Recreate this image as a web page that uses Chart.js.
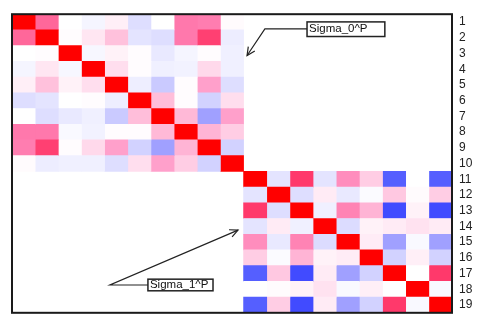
<!DOCTYPE html>
<html><head><meta charset="utf-8">
<script src="https://cdn.jsdelivr.net/npm/chart.js@4/dist/chart.umd.min.js"></script>
<style>html,body{margin:0;padding:0;background:#fff;}#wrap{width:477px;height:327px;}</style>
</head><body><div id="wrap"><canvas id="c"></canvas></div>
<script>
const rowLabels = ['1','2','3','4','5','6','7','8','9','10','11','12','13','14','15','16','17','18','19'];
// Sigma_0^P : rows/cols 1-10
const sigma0 = [
  [1, 0.75, 0, -0.08, 0.12, -0.3, 0, 0.7, 0.68, 0.03],
  [0.75, 1, 0.02, 0.18, 0.4, -0.25, -0.3, 0.7, 0.86, -0.15],
  [0, 0.02, 1, -0.06, 0.1, 0.02, -0.2, -0.08, 0.02, -0.12],
  [-0.08, 0.18, -0.06, 1, 0.22, 0.02, -0.12, -0.1, 0.25, -0.12],
  [0.12, 0.4, 0.1, 0.22, 1, -0.14, -0.45, 0.02, 0.55, -0.3],
  [-0.3, -0.25, 0, 0.02, -0.14, 1, 0.42, 0.02, -0.4, 0.22],
  [0, -0.3, -0.2, -0.12, -0.45, 0.42, 1, 0.45, -0.7, 0.55],
  [0.7, 0.7, -0.05, -0.1, 0.02, 0.02, 0.45, 1, 0.47, 0.32],
  [0.68, 0.86, 0.02, 0.25, 0.55, -0.4, -0.7, 0.47, 1, -0.4],
  [0.03, -0.15, -0.12, -0.12, -0.3, 0.22, 0.55, 0.32, -0.4, 1]
];
// Sigma_1^P : rows/cols 11-19
const sigma1 = [
  [1, -0.25, 0.88, -0.25, 0.62, 0.32, -0.85, 0, -0.85],
  [-0.25, 1, -0.3, 0.15, -0.2, -0.03, 0.35, 0.03, 0.32],
  [0.88, -0.3, 1, -0.12, 0.66, 0.47, -0.95, 0.1, -0.95],
  [-0.25, 0.15, -0.12, 1, -0.32, 0.1, 0.15, 0.2, 0.15],
  [0.62, -0.2, 0.66, -0.32, 1, 0.14, -0.7, -0.05, -0.7],
  [0.32, -0.03, 0.47, 0.1, 0.14, 1, -0.4, 0.12, -0.4],
  [-0.85, 0.35, -0.95, 0.15, -0.7, -0.4, 1, 0, 0.88],
  [0, 0.03, 0.1, 0.2, -0.05, 0.12, 0, 1, -0.05],
  [-0.85, 0.32, -0.95, 0.15, -0.7, -0.4, 0.88, -0.05, 1]
];
const blockStarts = [0, 10];
const blocks = [sigma0, sigma1];

const posStops = [[0,[255,255,255]],[0.15,[255,235,245]],[0.3,[255,208,230]],[0.45,[255,185,215]],[0.55,[255,160,203]],[0.7,[255,120,172]],[0.9,[255,50,100]],[1,[255,0,0]]];
const negStops = [[0,[255,255,255]],[0.1,[242,242,255]],[0.25,[228,228,255]],[0.4,[210,210,255]],[0.7,[160,160,255]],[0.85,[85,95,255]],[1,[55,65,255]]];
function colorFor(v){
  const stops = v >= 0 ? posStops : negStops;
  const a = Math.min(1, Math.abs(v));
  for (let k = 1; k < stops.length; k++) {
    if (a <= stops[k][0]) {
      const [t0,c0] = stops[k-1], [t1,c1] = stops[k];
      const f = (a - t0) / (t1 - t0);
      const c = c0.map((x,i)=>Math.round(x + (c1[i]-x)*f));
      return `rgb(${c[0]},${c[1]},${c[2]})`;
    }
  }
  const c = stops[stops.length-1][1];
  return `rgb(${c[0]},${c[1]},${c[2]})`;
}

// one dataset per column
const N = rowLabels.length;
const datasets = [];
for (let j = 0; j < N; j++) {
  const data = [], colors = [];
  blocks.forEach((m, b) => {
    const s = blockStarts[b];
    if (j < s || j >= s + m.length) return;
    for (let i = 0; i < m.length; i++) {
      const v = m[i][j - s];
      data.push({ y: rowLabels[s + i], x: [j, j + 1], v: v });
      colors.push(colorFor(v));
    }
  });
  datasets.push({ data, backgroundColor: colors, borderWidth: 0 });
}

const annotations = [
  { text: 'Sigma_0^P', box: [12.74, 0.49, 16.1, 1.42], path: [[12.74, 0.93], [10.92, 0.93], [10.15, 2.63]] },
  { text: 'Sigma_1^P', box: [5.87, 16.86, 8.68, 17.6], path: [[5.87, 17.23], [4.23, 17.23], [9.76, 13.74]] }
];

const framePlugin = {
  id: 'frame',
  afterDatasetsDraw(chart) {
    const { ctx, chartArea: a, scales } = chart;
    const px = x => scales.x.getPixelForValue(x);
    const py = r => scales.y.getPixelForValue(r - 0.5);
    ctx.save();
    ctx.strokeStyle = '#222';
    ctx.lineWidth = 1.2;
    annotations.forEach(an => {
      const pts = an.path.map(p => [px(p[0]), py(p[1])]);
      ctx.beginPath();
      ctx.moveTo(pts[0][0], pts[0][1]);
      for (let k = 1; k < pts.length; k++) ctx.lineTo(pts[k][0], pts[k][1]);
      ctx.stroke();
      const [x1, y1] = pts[pts.length - 2], [x2, y2] = pts[pts.length - 1];
      const ang = Math.atan2(y2 - y1, x2 - x1);
      const L = 9, w = 0.45;
      ctx.beginPath();
      ctx.moveTo(x2 - L * Math.cos(ang - w), y2 - L * Math.sin(ang - w));
      ctx.lineTo(x2, y2);
      ctx.lineTo(x2 - L * Math.cos(ang + w), y2 - L * Math.sin(ang + w));
      ctx.stroke();
      const bx = px(an.box[0]), by = py(an.box[1]), bx2 = px(an.box[2]), by2 = py(an.box[3]);
      ctx.fillStyle = '#fff';
      ctx.fillRect(bx, by, bx2 - bx, by2 - by);
      ctx.lineWidth = 1.5;
      ctx.strokeRect(bx, by, bx2 - bx, by2 - by);
      ctx.lineWidth = 1.2;
      ctx.fillStyle = '#111';
      ctx.font = '11.5px "Liberation Sans", Arial, sans-serif';
      ctx.textBaseline = 'middle';
      ctx.textAlign = 'left';
      ctx.fillText(an.text, bx + 2, (by + by2) / 2);
    });
    ctx.strokeStyle = '#1a1a1a';
    ctx.lineWidth = 2;
    ctx.strokeRect(a.left, a.top, a.right - a.left, a.bottom - a.top);
    ctx.restore();
  }
};

new Chart(document.getElementById('c'), {
  type: 'bar',
  data: { labels: rowLabels, datasets },
  options: {
    indexAxis: 'y',
    responsive: true,
    maintainAspectRatio: false,
    animation: false,
    datasets: { bar: { grouped: false, categoryPercentage: 1, barPercentage: 1 } },
    layout: { padding: { left: 12, top: 10, bottom: 6, right: 0 } },
    plugins: { legend: { display: false }, tooltip: { enabled: false } },
    scales: {
      x: { type: 'linear', min: 0, max: N, display: false },
      y: {
        type: 'category',
        position: 'right',
        grid: { display: false, drawTicks: false },
        border: { display: false },
        ticks: { color: '#222', padding: 7, autoSkip: false, font: { size: 12, family: '"Liberation Sans", Arial, sans-serif' } },
        afterFit(scale) { scale.width = 25; }
      }
    }
  },
  plugins: [framePlugin]
});
</script>
</body></html>
